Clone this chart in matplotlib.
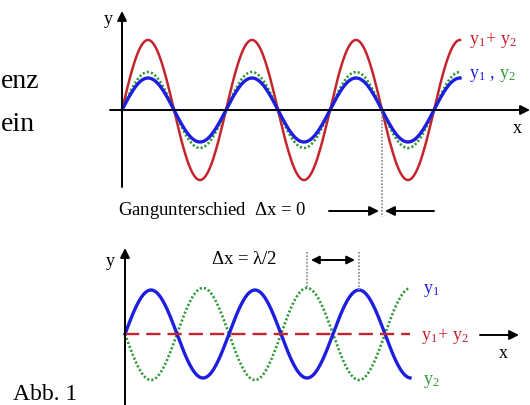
import numpy as np
import matplotlib.pyplot as plt

plt.rcParams['font.family'] = ['Liberation Serif', 'DejaVu Serif']
plt.rcParams['mathtext.fontset'] = 'custom'
plt.rcParams['mathtext.rm'] = 'Liberation Serif'
plt.rcParams['mathtext.it'] = 'Liberation Serif'

# wave parameters (pixel units)
top_start, top_end, top_axis = 122, 460, 111
top_wavelength = 104
amp_y1_top, amp_y2_top = 32, 38          # y1, y2 in phase -> sum = y1 + y2

bot_start, bot_end, bot_axis = 125, 410, 335
bot_wavelength = 104
amp_y1_bot, amp_y2_bot = 44, 46          # y2 shifted by lambda/2

RED, BLUE, GREEN = '#c4242c', '#1e1ee0', '#2f9a35'

fig = plt.figure(figsize=(5.30, 4.06), dpi=100)
ax = fig.add_axes([0, 0, 1, 1])
ax.set_xlim(0, 530)
ax.set_ylim(406, 0)
ax.axis('off')

arrow = dict(arrowstyle='-|>', color='k', lw=1.4, mutation_scale=14, shrinkA=0, shrinkB=0)

# ---- top panel: delta x = 0
x = np.linspace(top_start, top_end, 400)
ph = 2 * np.pi * (x - top_start) / top_wavelength
y1 = amp_y1_top * np.sin(ph)
y2 = amp_y2_top * np.sin(ph)
ax.plot(x, top_axis - (y1 + y2), color=RED, lw=1.8)
ax.plot(x, top_axis - y2, color=GREEN, lw=1.9, ls=(0, (0.8, 0.8)))
ax.plot(x, top_axis - y1, color=BLUE, lw=2.4)

ax.annotate('', xy=(530, top_axis), xytext=(110, top_axis), arrowprops=arrow)
ax.annotate('', xy=(122, 12), xytext=(122, 188), arrowprops=arrow)
ax.text(113, 20, 'y', fontsize=13, ha='right', va='center')
ax.text(517, 129, 'x', fontsize=13, ha='center', va='center')

ax.text(469, 40, r'$\mathrm{y_1\!+\,y_2}$', color=RED, fontsize=13, va='center')
ax.text(469, 76, r'$\mathrm{y_1\ ,}$', color=BLUE, fontsize=13, va='center')
ax.text(499, 76, r'$\mathrm{y_2}$', color=GREEN, fontsize=13, va='center')

ax.plot([382, 382], [top_axis, 218], color='#888888', lw=1.2, ls=(0, (1, 1)))
ax.annotate('', xy=(379, 212), xytext=(329, 212), arrowprops=arrow)
ax.annotate('', xy=(385, 212), xytext=(434, 212), arrowprops=arrow)
ax.text(118, 211, r'Gangunterschied  $\Delta$x = 0', fontsize=13.5, va='center')

# ---- bottom panel: delta x = lambda/2
x = np.linspace(bot_start, bot_end, 400)
ph = 2 * np.pi * (x - bot_start) / bot_wavelength
y1 = amp_y1_bot * np.sin(ph)
y2 = -amp_y2_bot * np.sin(ph)
ax.plot(x, bot_axis - y2, color=GREEN, lw=1.9, ls=(0, (0.8, 0.8)))
ax.plot(x, bot_axis - y1, color=BLUE, lw=2.4)
ax.plot([bot_start, bot_end], [bot_axis, bot_axis], color=RED, lw=1.7, ls=(0, (6, 3)))

ax.annotate('', xy=(125, 249), xytext=(125, 406), arrowprops=arrow)
ax.text(115, 262, 'y', fontsize=13, ha='right', va='center')
ax.annotate('', xy=(519, 336), xytext=(480, 336), arrowprops=arrow)
ax.text(503, 354, 'x', fontsize=13, ha='center', va='center')

ax.text(423, 291, r'$\mathrm{y_1}$', color=BLUE, fontsize=13, va='center')
ax.text(421, 336, r'$\mathrm{y_1\!+\,y_2}$', color=RED, fontsize=13, va='center')
ax.text(423, 382, r'$\mathrm{y_2}$', color=GREEN, fontsize=13, va='center')

peak_green = bot_start + 1.75 * bot_wavelength
peak_blue = bot_start + 2.25 * bot_wavelength
ax.plot([peak_green, peak_green], [253, bot_axis - amp_y2_bot], color='#888888', lw=1.2, ls=(0, (1, 1)))
ax.plot([peak_blue, peak_blue], [253, bot_axis - amp_y1_bot], color='#888888', lw=1.2, ls=(0, (1, 1)))
ax.annotate('', xy=(peak_green + 4, 261), xytext=(peak_blue - 4, 261),
            arrowprops=dict(arrowstyle='<|-|>', color='k', lw=1.4, mutation_scale=12, shrinkA=0, shrinkB=0))
ax.text(211, 260, r'$\Delta$x = $\lambda$/2', fontsize=13.5, va='center')

# cut-off text on the left of the page
ax.text(1, 88, 'enz', fontsize=20, va='baseline')
ax.text(1, 131, 'ein', fontsize=20, va='baseline')
ax.text(13, 400, 'Abb. 1', fontsize=17, va='baseline')

fig.savefig('out.png', dpi=100)
